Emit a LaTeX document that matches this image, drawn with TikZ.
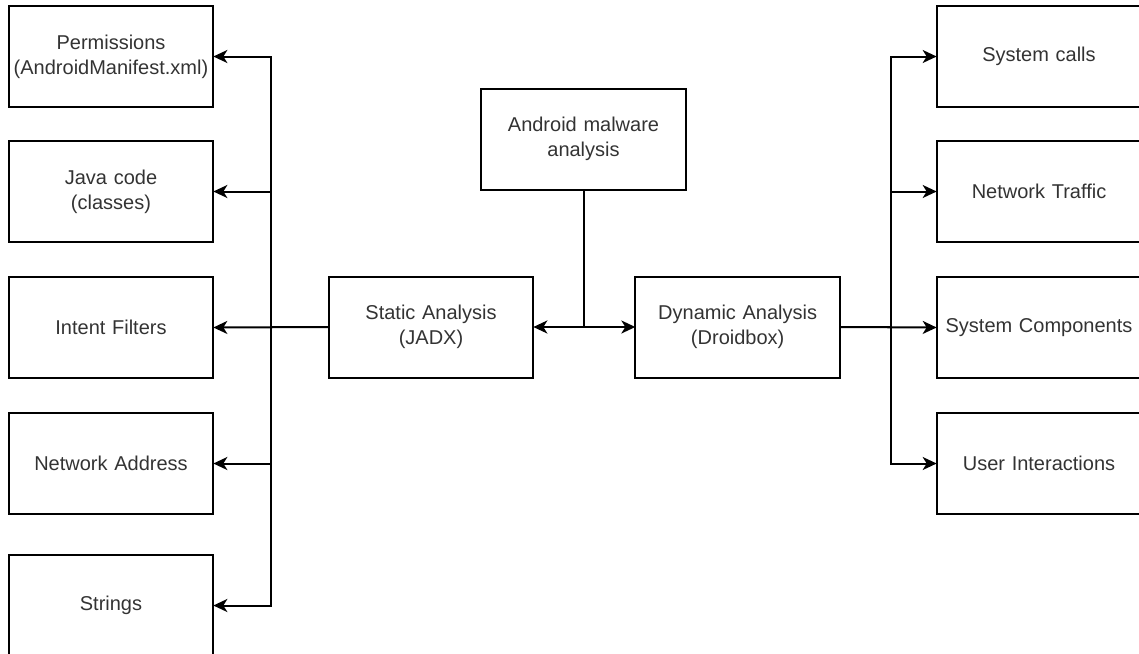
\documentclass[tikz,border=0pt]{standalone}
\usepackage{fontspec}
\setmainfont{Liberation Sans}
\usetikzlibrary{positioning, arrows.meta}

\begin{document}
\begin{tikzpicture}[x=1pt, y=-1pt]
	% Define styles
	\tikzset{
		block/.style={rectangle, draw, line width=2pt, minimum width=202pt, minimum height=101pt, text width=198pt, align=center, font=\fontsize{20}{25}\selectfont, text=black!80, outer sep=0pt},
		line/.style={draw, line width=2pt, -{Stealth[length=14pt, width=13pt, inset=4pt]}}
	}
	\useasboundingbox (0,0) rectangle (1139,653);
	
	% Nodes
	\node[block] (android) at (583.5,139) {Android malware\\analysis};
	\node[block] (static) at (431,327) {Static Analysis\\(JADX)};
	\node[block, right=102pt of static] (dynamic) {Dynamic Analysis\\(Droidbox)};
	
	\node[block] (perm) at (111,56.5) {Permissions\\(AndroidManifest.xml)};
	\node[block, below=34pt of perm] (java) {Java code\\(classes)};
	\node[block, below=35pt of java] (intent) {Intent Filters};
	\node[block, below=35pt of intent] (netaddr) {Network Address};
	\node[block, below=41pt of netaddr] (strings) {Strings};
	
	\node[block] (syscalls) at (1039,56.5) {System calls};
	\node[block, below=34pt of syscalls] (traffic) {Network Traffic};
	\node[block, below=35pt of traffic] (components) {System Components};
	\node[block, below=35pt of components] (interact) {User Interactions};
	
	% Junctions
	\coordinate[left=58pt of static] (sj);
	\coordinate[right=51pt of dynamic] (dj);
	\coordinate (mj) at (android.south |- static.east);
	
	% Arrows
	\draw[line width=2pt] (android.south) -- (mj);
	\path [line] (mj) -- (static.east);
	\path [line] (mj) -- (dynamic.west);
	
	\path [line] (static.west) -- (sj) |- (perm.east);
	\path [line] (static.west) -- (sj) |- (java.east);
	\path [line] (static.west) -- (intent.east);
	\path [line] (static.west) -- (sj) |- (netaddr.east);
	\path [line] (static.west) -- (sj) |- (strings.east);
	
	\path [line] (dynamic.east) -- (dj) |- (syscalls.west);
	\path [line] (dynamic.east) -- (dj) |- (traffic.west);
	\path [line] (dynamic.east) -- (components.west);
	\path [line] (dynamic.east) -- (dj) |- (interact.west);
\end{tikzpicture}
\end{document}
